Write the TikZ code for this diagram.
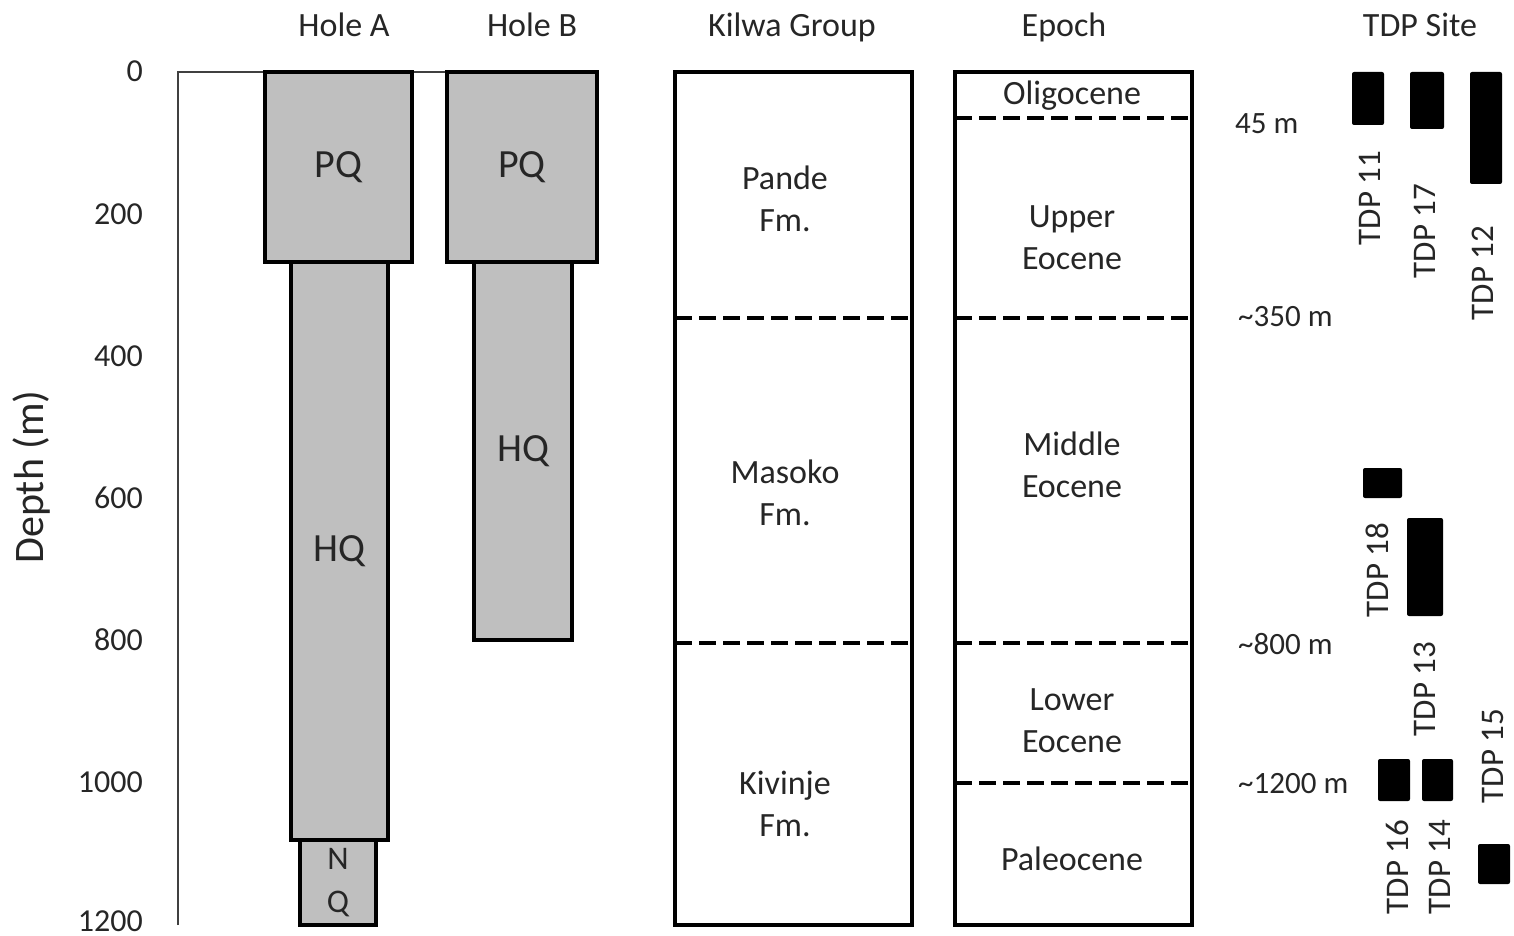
\documentclass[tikz,border=0pt]{standalone}
\usepackage{fontspec}
\setmainfont{Carlito}
\definecolor{txt}{HTML}{262626}
\definecolor{holegray}{HTML}{BFBFBF}
\newcommand\fsz[2]{\fontsize{#1}{#2}\selectfont}
\begin{document}
\begin{tikzpicture}[x=1pt,y=-1pt,
  lbl/.style={text=txt, inner sep=0pt, font=\fsz{34}{42}, align=center},
  tick/.style={text=txt, inner sep=0pt, font=\fsz{32}{38}, anchor=base east},
  head/.style={text=txt, inner sep=0pt, font=\fsz{34}{42}, anchor=base},
  hole/.style={draw=black, line width=4pt, fill=holegray, inner sep=0pt, outer sep=0pt, anchor=north west, text=txt, font=\fsz{40}{48}},
  column/.style={draw=black, line width=4pt, fill=white, inner sep=0pt, outer sep=0pt, anchor=north west},
  bound/.style={draw=black, line width=3.5pt, dash pattern=on 17pt off 7pt},
  core/.style={fill=black, rounded corners=2pt, inner sep=0pt, outer sep=0pt, anchor=north west},
  tdp/.style={text=txt, inner sep=0pt, font=\fsz{33}{40}, rotate=90},
  depthmark/.style={text=txt, inner sep=0pt, font=\fsz{31}{38}, anchor=west}
]
\useasboundingbox (0,0) rectangle (1514,936);

% headers
\node[head] (hA) at (344,37) {Hole A};
\node[head] (hB) at (532,37) {Hole B};
\node[head] (hK) at (792,37) {Kilwa Group};
\node[head] (hE) at (1064,37) {Epoch};
\node[head] (hT) at (1420,37) {TDP Site};

% axis
\node[text=txt, inner sep=0pt, font=\fsz{42}{50}, rotate=90] (dlab) at (32,477) {Depth (m)};
\coordinate (ax0) at (178,72);
\coordinate (ax1) at (178,925);
\coordinate (axr) at (447,72);
\draw[line width=2pt, black!75] (ax1) -- (ax0) -- (axr);
\node[tick] (t0) at (143,82) {0};
\node[tick] (t200) at (143,224) {200};
\node[tick] (t400) at (143,366) {400};
\node[tick] (t600) at (143,508) {600};
\node[tick] (t800) at (143,650) {800};
\node[tick] (t1000) at (143,792) {1000};
\node[tick] (t1200) at (143,931) {1200};

% Hole A
\node[hole, minimum width=97pt, minimum height=578pt] (hqA) at (291,262) {HQ};
\node[hole, minimum width=76pt, minimum height=85pt, font=\fsz{33}{43}, align=center] (nqA) at (300,840) {N\\Q};
\node[hole, minimum width=147pt, minimum height=190pt] (pqA) at (265,72) {PQ};
% Hole B
\node[hole, minimum width=98pt, minimum height=378pt] (hqB) at (474,262) {HQ};
\node[hole, minimum width=150pt, minimum height=190pt] (pqB) at (447,72) {PQ};

% Kilwa Group column
\node[column, minimum width=237pt, minimum height=853pt] (kil) at (675,72) {};
\coordinate (k1l) at (675,318); \coordinate (k1r) at (912,318);
\coordinate (k2l) at (675,643); \coordinate (k2r) at (912,643);
\draw[bound] (k1l) -- (k1r);
\draw[bound] (k2l) -- (k2r);
\node[lbl] (pande) at (785,199) {Pande\\Fm.};
\node[lbl] (masoko) at (785,493) {Masoko\\Fm.};
\node[lbl] (kivinje) at (785,804) {Kivinje\\Fm.};

% Epoch column
\node[column, minimum width=237pt, minimum height=853pt] (epo) at (955,72) {};
\coordinate (e0l) at (955,118); \coordinate (e0r) at (1192,118);
\coordinate (e1l) at (955,318); \coordinate (e1r) at (1192,318);
\coordinate (e2l) at (955,643); \coordinate (e2r) at (1192,643);
\coordinate (e3l) at (955,783); \coordinate (e3r) at (1192,783);
\draw[bound] (e0l) -- (e0r);
\draw[bound] (e1l) -- (e1r);
\draw[bound] (e2l) -- (e2r);
\draw[bound] (e3l) -- (e3r);
\node[lbl] (olig) at (1072,96) {Oligocene};
\node[lbl] (upper) at (1072,238) {Upper\\Eocene};
\node[lbl] (middle) at (1072,465) {Middle\\Eocene};
\node[lbl] (lower) at (1072,721) {Lower\\Eocene};
\node[lbl] (paleo) at (1072,859) {Paleocene};

% depth marks
\node[depthmark] (m45) at (1235,124) {45 m};
\node[depthmark] (m350) at (1238,317) {\textasciitilde350 m};
\node[depthmark] (m800) at (1238,644) {\textasciitilde800 m};
\node[depthmark] (m1200) at (1238,784) {\textasciitilde1200 m};

% TDP cores
\node[core, minimum width=32pt, minimum height=53pt] (c11) at (1352,72) {};
\node[core, minimum width=34pt, minimum height=57pt] (c17) at (1410,72) {};
\node[core, minimum width=32pt, minimum height=112pt] (c12) at (1470,72) {};
\node[core, minimum width=39pt, minimum height=30pt] (c18) at (1363,468) {};
\node[core, minimum width=36pt, minimum height=98pt] (c13) at (1407,518) {};
\node[core, minimum width=32pt, minimum height=42pt] (c16) at (1378,759) {};
\node[core, minimum width=31pt, minimum height=42pt] (c14) at (1422,759) {};
\node[core, minimum width=32pt, minimum height=40pt] (c15) at (1478,844) {};

\node[tdp] (l11) at (1370,198) {TDP 11};
\node[tdp] (l17) at (1425,231) {TDP 17};
\node[tdp] (l12) at (1483,273) {TDP 12};
\node[tdp] (l18) at (1377,570) {TDP 18};
\node[tdp] (l13) at (1425,689) {TDP 13};
\node[tdp] (l15) at (1493,756) {TDP 15};
\node[tdp] (l16) at (1397,867) {TDP 16};
\node[tdp] (l14) at (1440,867) {TDP 14};
\end{tikzpicture}
\end{document}
